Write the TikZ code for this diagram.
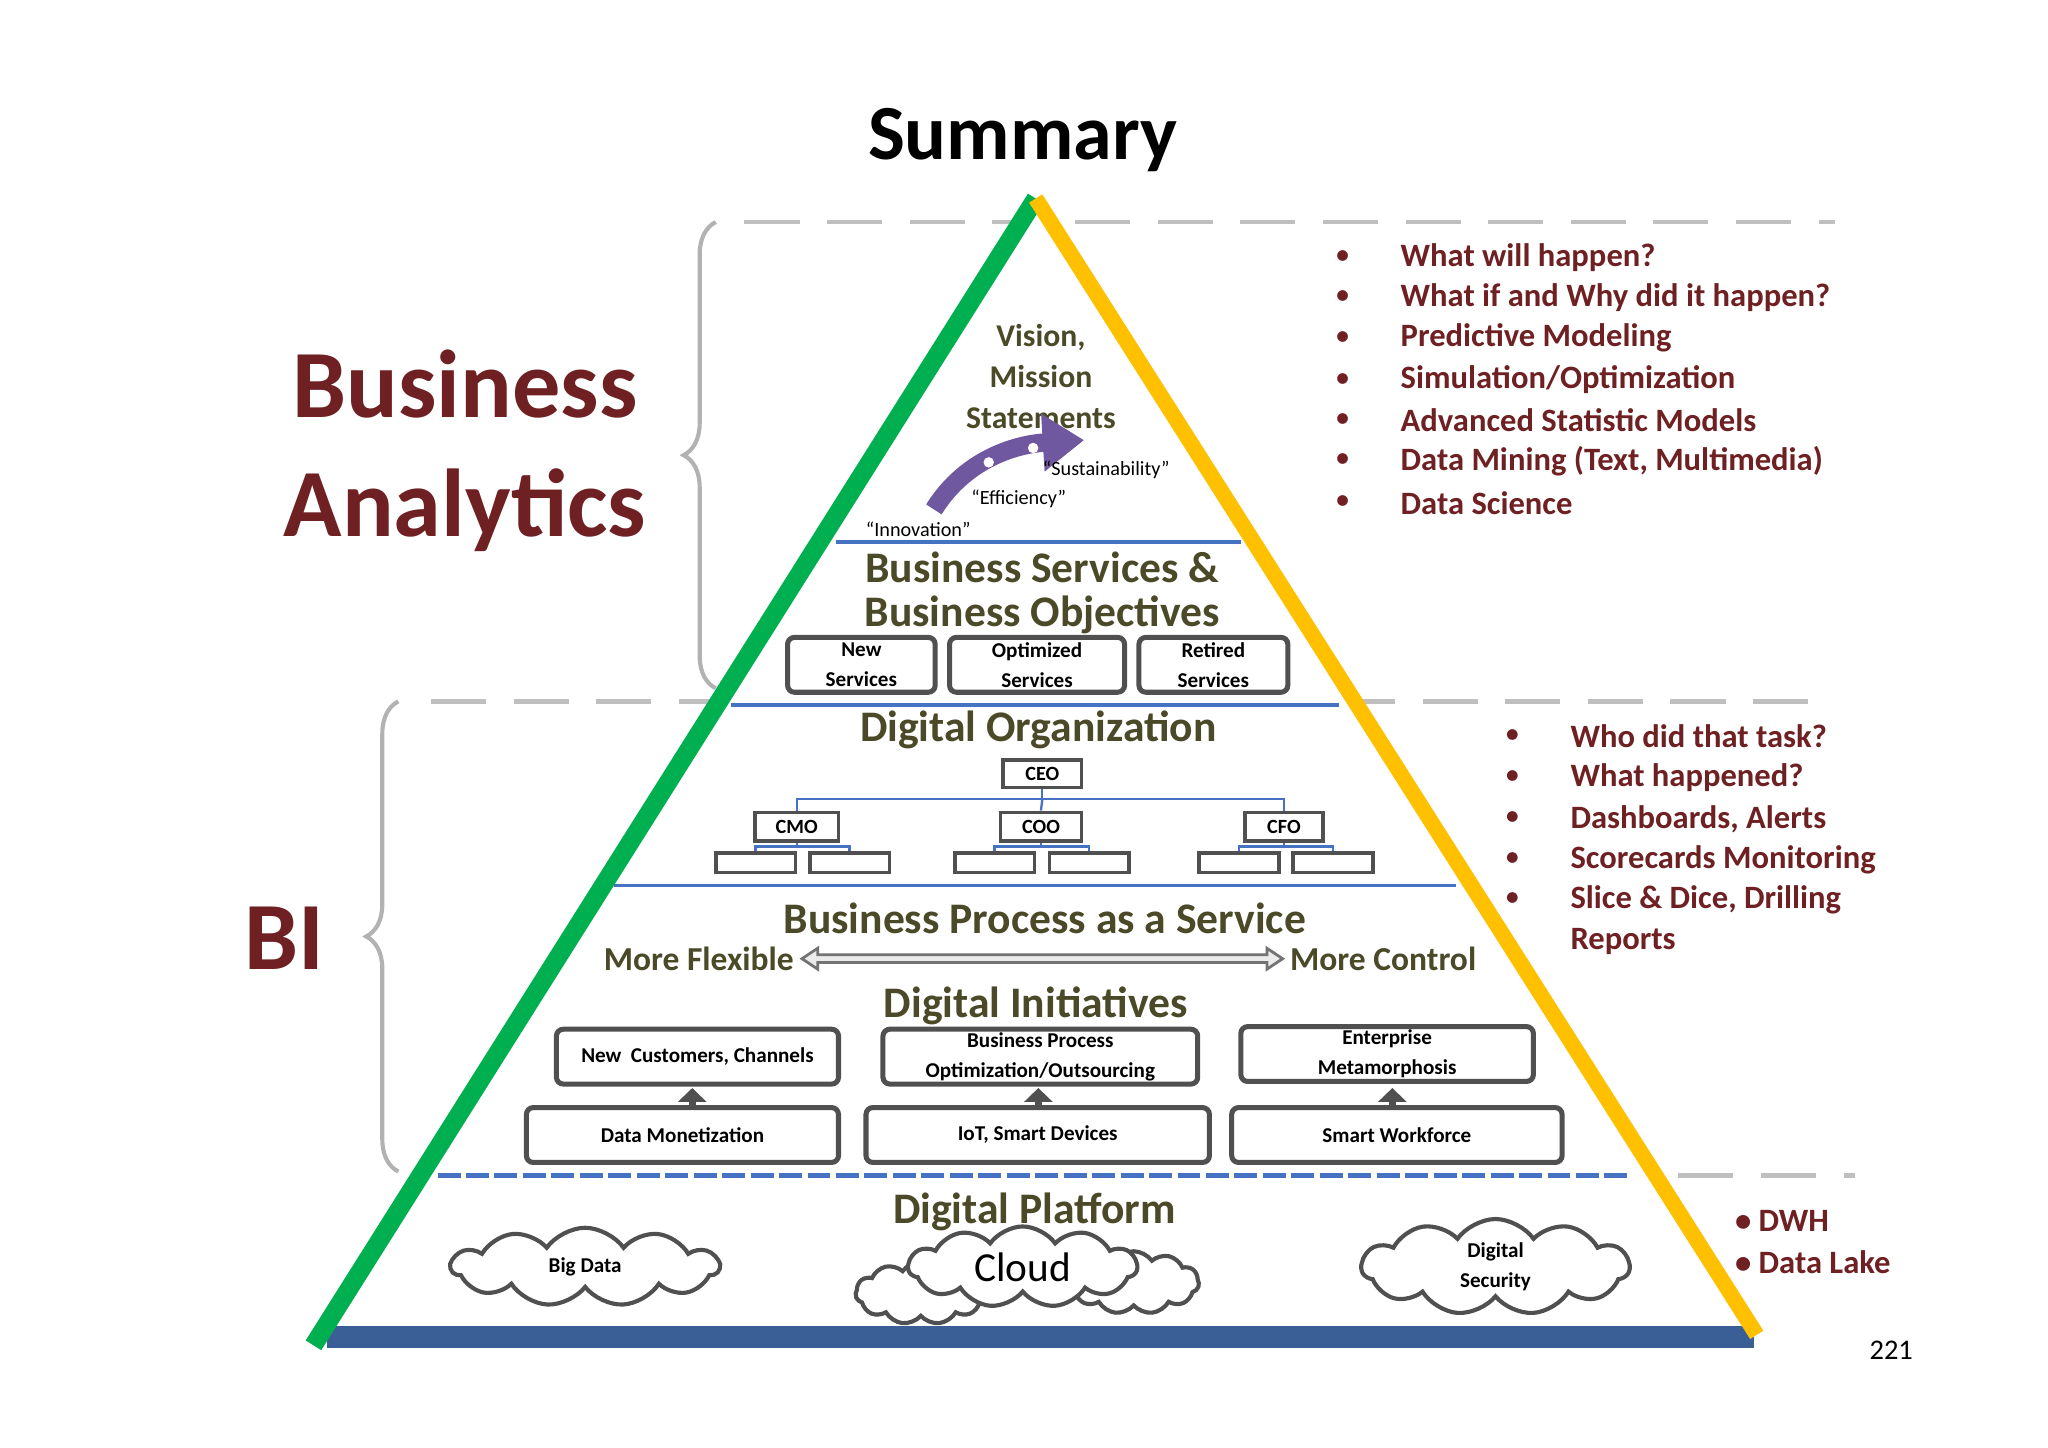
\documentclass[tikz,border=0pt]{standalone}
\usepackage{fontspec}
\setmainfont{Carlito}
\usetikzlibrary{shapes.symbols,arrows.meta,decorations.pathreplacing}
\definecolor{dred}{RGB}{110,32,34}
\definecolor{olv}{RGB}{74,74,40}
\definecolor{lblue}{RGB}{70,114,196}
\definecolor{bbar}{RGB}{58,95,150}
\definecolor{grn}{RGB}{0,176,80}
\definecolor{ylw}{RGB}{255,192,0}
\definecolor{dgr}{RGB}{80,80,80}
\definecolor{purp}{RGB}{112,88,160}
\newcommand{\fs}[1]{\fontsize{#1}{#1}\selectfont}
\tikzset{
 hd/.style={text=olv,font=\bfseries\fs{9.5}},
 bl/.style={text=dred,font=\bfseries\fs{7.1},anchor=west},
 bx/.style={draw=dgr,line width=1.1pt,rounded corners=1.5pt,align=center,font=\bfseries\fs{4.6},inner sep=0pt},
 ob/.style={draw=dgr,line width=0.8pt,font=\bfseries\fs{4.4},inner sep=0pt},
 sep/.style={draw=lblue,line width=0.8pt},
 dsh/.style={draw=black!25,line width=1pt,dash pattern=on 12pt off 6pt},
 brc/.style={draw=black!30,line width=0.9pt,decorate,decoration={brace,amplitude=7pt}},
 cl/.style={cloud,cloud puffs=11,cloud puff arc=110,aspect=3,draw=dgr,line width=0.9pt,fill=white,inner sep=0pt},
 olk/.style={draw=lblue,line width=0.5pt}
}
\begin{document}
\begin{tikzpicture}[x=0.1mm,y=-0.1mm]
\useasboundingbox (0,0) rectangle (1568,1108.6);
% dashed level lines
\draw[dsh] (570,170) -- (1405,170);
\draw[dsh] (330,537) -- (1405,537);
\draw[dsh] (1285,900) -- (1420,900);
% braces
\draw[brc] (548,527) -- (548,170);
\draw[brc] (305,897) -- (305,537);
% triangle
\coordinate (apex) at (793,152);
\coordinate (bl) at (240,1030);
\coordinate (br) at (1345,1022);
\fill[white] (apex) -- (bl) -- (br) -- cycle;
\draw[sep] (640,415) -- (950,415);
\draw[sep] (560,540) -- (1025,540);
\draw[sep] (470,678) -- (1115,678);
\draw[draw=lblue,line width=1pt,dash pattern=on 5pt off 1.2pt] (335,900) -- (1250,900);
\fill[bbar] (250,1015) rectangle (1343,1032);
\draw[grn,line width=4pt] (bl) -- (apex);
\draw[ylw,line width=3.4pt] (apex) -- (br);
% titles
\node[font=\bfseries\fs{17}] (title) at (783,107) {Summary};
\node[text=dred,font=\bfseries\fs{21},align=center] (ba) at (356,345) {Business\\[5pt]Analytics};
\node[text=dred,font=\bfseries\fs{21}] (bi) at (218,718) {BI};
% top level
\node[text=olv,font=\bfseries\fs{6.9},align=center] (vis) at (797,288) {Vision,\\[2pt]Mission\\[2pt]Statements};
\draw[purp,line width=4pt,-{Triangle[length=9pt,width=12pt]}] (715,390) .. controls (740,350) and (780,340) .. (830,337);
\fill[white] (757,354) circle (4); \fill[white] (791,343) circle (4);
\node[font=\fs{4.4}] (s1) at (847,360) {“Sustainability”};
\node[font=\fs{4.4}] (s2) at (780,382) {“Efficiency”};
\node[font=\fs{4.4}] (s3) at (703,405) {“Innovation”};
\node[hd,align=center] (bso) at (798,454) {Business Services \&\\[0pt]Business Objectives};
\node[bx,minimum width=113*0.2845pt,minimum height=42*0.2845pt] (ns) at (659.5,509) {New\\[2pt]Services};
\node[bx,minimum width=134*0.2845pt,minimum height=42*0.2845pt] (os) at (794,509) {Optimized\\[2pt]Services};
\node[bx,minimum width=114*0.2845pt,minimum height=42*0.2845pt] (rs) at (929,509) {Retired\\[2pt]Services};
% digital organization
\node[hd] (dorg) at (795,559) {Digital Organization};
\node[ob,minimum width=60*0.2845pt,minimum height=21*0.2845pt] (ceo) at (798,592.5) {CEO};
\node[ob,minimum width=64*0.2845pt,minimum height=22*0.2845pt] (cmo) at (610,633) {CMO};
\node[ob,minimum width=62*0.2845pt,minimum height=22*0.2845pt] (coo) at (797,633) {COO};
\node[ob,minimum width=60*0.2845pt,minimum height=22*0.2845pt] (cfo) at (983,633) {CFO};
\draw[olk] (ceo.south) -- (798,612) -- (610,612) -- (cmo.north);
\draw[olk] (798,612) -- (983,612) -- (cfo.north);
\draw[olk] (798,612) -- (coo.north);
\foreach \n/\x in {a/578.5,b/650.5,c/761.5,d/834,e/948.5,f/1020.5}{
 \node[ob,minimum width=61*0.2845pt,minimum height=15*0.2845pt] (sb\n) at (\x,660.5) {};}
\foreach \p/\u/\v in {cmo/a/b,coo/c/d,cfo/e/f}{
 \draw[olk] (\p.south) -- (\p.south |- 0,648);
 \draw[olk] (sb\u.north) -- (sb\u.north |- 0,648) -- (sb\v.north |- 0,648) -- (sb\v.north);}
% BPaaS
\node[hd] (bpaas) at (800,703) {Business Process as a Service};
\node[text=olv,font=\bfseries\fs{7.3}] (mf) at (535,734) {More Flexible};
\node[text=olv,font=\bfseries\fs{7.3}] (mc) at (1059,734) {More Control};
\draw[draw=black!55,fill=black!8,line width=0.6pt] (614,734) -- (626,726) -- (626,731) -- (970,731) -- (970,726) -- (982,734) -- (970,742) -- (970,737) -- (626,737) -- (626,742) -- cycle;
% digital initiatives
\node[hd] (dini) at (793,770) {Digital Initiatives};
\node[bx,minimum width=216*0.2845pt,minimum height=42*0.2845pt] (nc) at (534,809) {New\ \ Customers, Channels};
\node[bx,minimum width=241*0.2845pt,minimum height=42*0.2845pt] (bpo) at (796.5,809) {Business Process\\[2pt]Optimization/Outsourcing};
\node[bx,minimum width=224*0.2845pt,minimum height=42*0.2845pt] (em) at (1062,807) {Enterprise\\[2pt]Metamorphosis};
\node[bx,minimum width=239*0.2845pt,minimum height=42*0.2845pt] (dm) at (522.5,869) {Data Monetization};
\node[bx,minimum width=263*0.2845pt,minimum height=42*0.2845pt] (iot) at (794.5,869) {IoT, Smart Devices};
\node[bx,minimum width=253*0.2845pt,minimum height=42*0.2845pt] (sw) at (1069.5,869) {Smart Workforce};
\draw[-{Triangle[length=3pt,width=6pt]},line width=1.6pt,dgr] (530,847) -- (530,833);
\draw[-{Triangle[length=3pt,width=6pt]},line width=1.6pt,dgr] (795,847) -- (795,833);
\draw[-{Triangle[length=3pt,width=6pt]},line width=1.6pt,dgr] (1066,847) -- (1066,833);
% digital platform
\node[hd] (dplat) at (792,928) {Digital Platform};
\node[cl,minimum width=205*0.2845pt,minimum height=60*0.2845pt,font=\bfseries\fs{4.6}] (bd) at (448,970) {Big Data};
\node[cl,minimum width=100*0.2845pt,minimum height=48*0.2845pt] (c2) at (705,990) {};
\node[cl,minimum width=100*0.2845pt,minimum height=48*0.2845pt] (c3) at (868,982) {};
\node[cl,minimum width=175*0.2845pt,minimum height=62*0.2845pt,font=\fs{9}] (cloud) at (783,970) {Cloud};
\node[cl,minimum width=205*0.2845pt,minimum height=62*0.2845pt,font=\bfseries\fs{4.6},align=center] (ds) at (1145,970) {Digital\\[2pt]Security};
% right lists
\foreach \y/\t [count=\i] in {197/{What will happen?},228/{What if and Why did it happen?},259/{Predictive Modeling},291/{Simulation{/}Optimization},322/{Advanced Statistic Models},353/{Data Mining (Text, Multimedia)},385/{Data Science}}{
 \node[bl] (ta\i) at (1060,\y) {\t};
 \node[text=dred,font=\fs{6.6}] (ba\i) at (1028,\y) {•};}
\foreach \y/\t [count=\i] in {564/{Who did that task?},595/{What happened?},627/{Dashboards, Alerts},658/{Scorecards Monitoring},689/{Slice \& Dice, Drilling}}{
 \node[bl] (tb\i) at (1190,\y) {\t};
 \node[text=dred,font=\fs{6.6}] (bb\i) at (1158,\y) {•};}
\node[bl] (tb6) at (1190,721) {Reports};
\node[bl] (dwh) at (1316,935) {• DWH};
\node[bl] (dl) at (1316,966) {• Data Lake};
\node[font=\fs{6.2}] (pg) at (1448,1034) {221};
\end{tikzpicture}
\end{document}
